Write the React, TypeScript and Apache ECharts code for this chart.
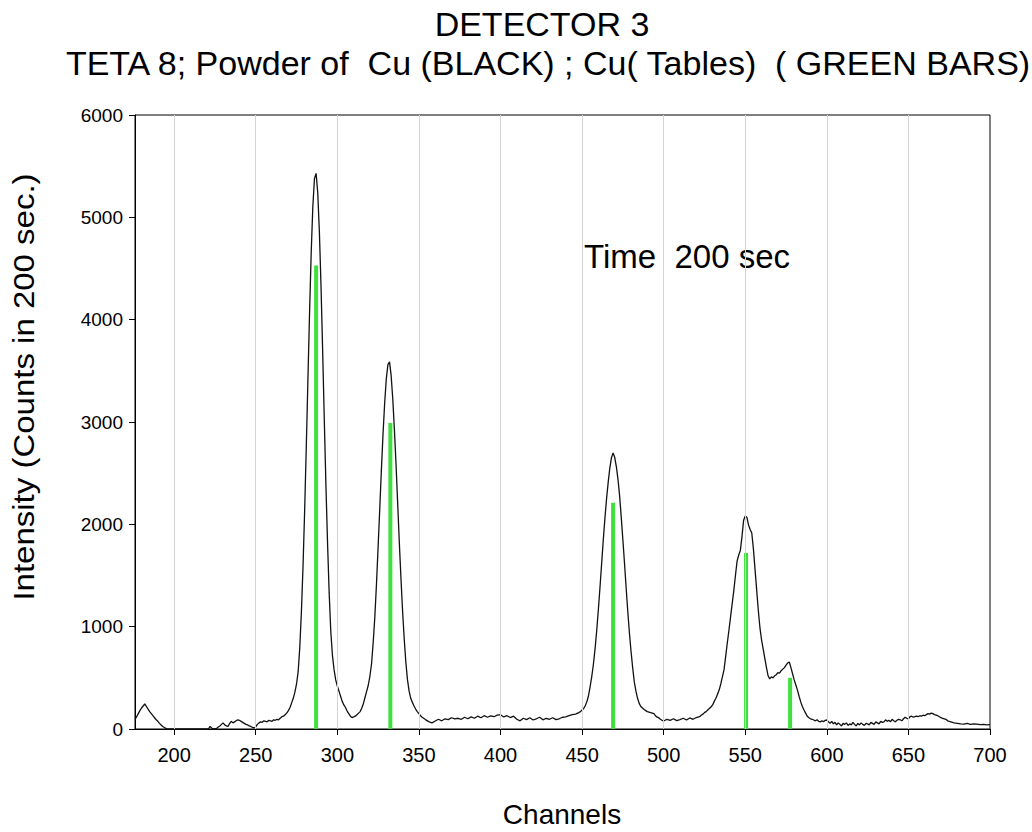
import React, { useEffect, useRef } from "react";
import * as echarts from "echarts";

// ---- Measured spectrum (channel, counts) ----
const lowChannelBump: number[][] = [
  [176, 95], [177, 120], [178, 150], [179, 180], [180, 205], [181, 225], [182, 245], [183, 220],
  [184, 195], [185, 170], [186, 150], [187, 130], [188, 110], [189, 90], [190, 75], [191, 55],
  [192, 40], [193, 25], [194, 15], [195, 5], [196, 0], [200, 0], [205, 0], [210, 0], [215, 0], [221, 0],
];

const preamble: number[][] = [
  [222, 25], [223, 10], [224, 0], [226, 5], [227, 20], [228, 30], [229, 45], [230, 60], [231, 40],
  [232, 30], [233, 25], [234, 55], [235, 75], [236, 60], [237, 70], [238, 80], [239, 90], [240, 85],
  [241, 75], [242, 65], [243, 55], [244, 45], [245, 40], [246, 30], [247, 25], [248, 15], [249, 10],
  [250, 20], [251, 45], [252, 60], [253, 70], [254, 65], [255, 80], [256, 75], [257, 70], [258, 85],
  [259, 80], [260, 75], [261, 90], [262, 85], [263, 95], [264, 90], [265, 105],
];

const peak1: number[][] = [
  [266, 120], [267, 125], [268, 140], [269, 155], [270, 180], [271, 210], [272, 255], [273, 300],
  [274, 360], [275, 440], [276, 560], [277, 800], [278, 1150], [279, 1600], [280, 2150], [281, 2770],
  [282, 3430], [283, 4080], [284, 4660], [285, 5110], [286, 5380], [287, 5430], [288, 5240], [289, 4860],
  [290, 4330], [291, 3700], [292, 3030], [293, 2390], [294, 1820], [295, 1330], [296, 950], [297, 720],
  [298, 580], [299, 480], [300, 420], [301, 370], [302, 320], [303, 270], [304, 235], [305, 210],
  [306, 175], [307, 150], [308, 125], [309, 112], [310, 118], [311, 125], [312, 140], [313, 155],
  [314, 170], [315, 205],
];

const peak2: number[][] = [
  [316, 250], [317, 310], [318, 370], [319, 430], [320, 520], [321, 640], [322, 850], [323, 1100],
  [324, 1420], [325, 1780], [326, 2150], [327, 2530], [328, 2880], [329, 3180], [330, 3420], [331, 3560],
  [332, 3587], [333, 3450], [334, 3220], [335, 2920], [336, 2580], [337, 2200], [338, 1820], [339, 1470],
  [340, 1150], [341, 880], [342, 650], [343, 480], [344, 370], [345, 300], [346, 260], [347, 225],
  [348, 195], [349, 170], [350, 150], [351, 130],
];

const midBackground: number[][] = [
  [352, 115], [354, 92], [356, 72], [358, 60], [360, 78], [362, 95], [364, 80], [366, 100], [368, 92],
  [370, 110], [372, 98], [374, 105], [376, 95], [378, 115], [380, 100], [382, 118], [384, 105],
  [386, 125], [388, 110], [390, 130], [392, 115], [394, 128], [396, 120], [398, 135], [400, 140],
  [402, 118], [404, 130], [406, 112], [408, 125], [410, 95], [412, 80], [414, 105], [416, 92],
  [418, 110], [420, 88], [422, 100], [424, 115], [426, 90], [428, 105], [430, 95], [432, 110],
  [434, 92], [436, 100], [438, 115], [440, 118], [442, 130], [444, 140], [446, 145], [448, 160],
  [449, 170], [450, 185], [451, 200],
];

const peak3: number[][] = [
  [452, 230], [453, 270], [454, 330], [455, 420], [456, 520], [457, 640], [458, 790], [459, 970],
  [460, 1170], [461, 1390], [462, 1620], [463, 1850], [464, 2060], [465, 2250], [466, 2410], [467, 2550],
  [468, 2650], [469, 2698], [470, 2655], [471, 2565], [472, 2440], [473, 2280], [474, 2070], [475, 1850],
  [476, 1620], [477, 1380], [478, 1150], [479, 940], [480, 760], [481, 600], [482, 460], [483, 370],
  [484, 300], [485, 250], [486, 220], [487, 205], [488, 190], [489, 180], [490, 170], [492, 160],
  [494, 150], [495, 130], [496, 115], [497, 110], [498, 95], [499, 85], [500, 78],
];

const valleyBackground: number[][] = [
  [502, 95], [504, 85], [506, 100], [508, 82], [510, 92], [512, 105], [514, 88], [516, 108],
  [518, 95], [520, 112], [522, 120], [523, 135],
];

const peak4: number[][] = [
  [524, 145], [525, 160], [526, 170], [527, 185], [528, 200], [529, 215], [530, 235], [531, 270],
  [532, 300], [533, 340], [534, 380], [535, 440], [536, 510], [537, 580], [538, 710], [539, 840],
  [540, 965], [541, 1095], [542, 1225], [543, 1355], [544, 1500], [545, 1640], [546, 1700], [547, 1745],
  [548, 1880], [549, 2040], [550, 2082], [551, 2070], [552, 1995], [553, 1950], [554, 1915], [555, 1760],
  [556, 1560], [557, 1360], [558, 1160], [559, 990], [560, 870], [561, 780], [562, 690], [563, 600],
  [564, 520], [565, 490], [566, 510], [567, 500], [568, 520], [569, 530], [570, 550], [571, 545],
  [572, 570], [573, 585], [574, 600], [575, 625], [576, 645], [577, 655], [578, 600], [579, 540],
  [580, 480], [581, 430], [582, 380], [583, 320], [584, 265], [585, 220], [586, 185], [587, 155],
  [588, 125], [589, 110], [590, 100], [591, 95], [592, 88], [593, 80], [594, 90], [595, 75],
  [596, 70], [597, 80], [598, 72], [599, 85],
];

const highBackground: number[][] = [
  [600, 88], [601, 70], [602, 55], [603, 75], [604, 50], [605, 65], [606, 40], [607, 60], [608, 45],
  [609, 30], [610, 55], [611, 45], [612, 60], [613, 35], [614, 50], [615, 40], [616, 65], [617, 45],
  [618, 30], [619, 55], [620, 40], [621, 60], [622, 45], [623, 35], [624, 55], [625, 50], [626, 40],
  [627, 65], [628, 55], [629, 45], [630, 70], [631, 60], [632, 50], [633, 75], [634, 65], [635, 70],
  [636, 90], [637, 75], [638, 85], [639, 70], [640, 95], [641, 80], [642, 70], [643, 85], [644, 95],
  [645, 90], [646, 80], [647, 100], [648, 115], [649, 105], [650, 100], [651, 120], [652, 125],
  [653, 115], [654, 120], [655, 125], [656, 120], [657, 130], [658, 125], [659, 135], [660, 130],
  [661, 140], [662, 150], [663, 145], [664, 155], [665, 150], [666, 140], [667, 135], [668, 130],
  [669, 120], [670, 110], [671, 105], [672, 100], [673, 95], [674, 80], [675, 75], [676, 70],
  [677, 65], [678, 60], [680, 55], [682, 50], [684, 48], [686, 55], [688, 45], [690, 50], [692, 48],
  [694, 42], [696, 45], [698, 40], [700, 42],
];

// ---- Tabulated Cu lines (green bars) ----
const tableChannels = [287, 332.5, 469, 550.5, 577.5];
const tableIntensity = [4530, 2990, 2210, 1720, 500];

// ---- Axis ticks ----
const xTicks = [200, 250, 300, 350, 400, 450, 500, 550, 600, 650, 700];
const xGridLines = [200, 250, 300, 350, 400, 450, 500, 550, 600, 650];

const FONT = '"Liberation Sans", Arial, Helvetica, sans-serif';

export default function App() {
  const ref = useRef<HTMLDivElement>(null);

  useEffect(() => {
    if (!ref.current) return;
    const chart = echarts.init(ref.current, null, { renderer: "svg" });

    const spectrum = [
      ...lowChannelBump,
      ...preamble,
      ...peak1,
      ...peak2,
      ...midBackground,
      ...peak3,
      ...valleyBackground,
      ...peak4,
      ...highBackground,
    ];
    const bars = tableChannels.map((c, i) => [c, tableIntensity[i]]);

    chart.setOption({
      animation: false,
      backgroundColor: "#fff",
      grid: {
        left: 135,
        right: 42,
        top: 115,
        bottom: 103,
        show: true,
        borderColor: "#000",
        borderWidth: 1,
        backgroundColor: "transparent",
      },
      xAxis: {
        type: "value",
        min: 176,
        max: 700,
        axisLine: { show: true, onZero: false, lineStyle: { color: "#000", width: 1 } },
        axisTick: {
          show: true,
          inside: false,
          length: 6,
          customValues: xTicks,
          lineStyle: { color: "#000" },
        },
        axisLabel: {
          customValues: xTicks,
          color: "#000",
          fontFamily: FONT,
          fontSize: 20,
          margin: 16,
          formatter: (v: number) => String(v),
        },
        splitLine: { show: false },
      },
      yAxis: {
        type: "value",
        min: 0,
        max: 6000,
        interval: 1000,
        axisLine: { show: true, lineStyle: { color: "#000", width: 1 } },
        axisTick: { show: true, inside: false, length: 6, lineStyle: { color: "#000" } },
        axisLabel: {
          color: "#000",
          fontFamily: FONT,
          fontSize: 19,
          margin: 12,
          formatter: (v: number) => String(v),
        },
        splitLine: { show: false },
      },
      series: [
        {
          type: "line",
          data: [],
          silent: true,
          markLine: {
            silent: true,
            symbol: ["none", "none"],
            label: { show: false },
            lineStyle: { color: "#d4d4d4", width: 1, type: "solid" },
            data: xGridLines.map((v) => ({ xAxis: v })),
          },
          z: 1,
        },
        {
          type: "custom",
          data: bars,
          z: 2,
          renderItem: (params: any, api: any) => {
            const x = api.value(0);
            const y = api.value(1);
            const top = api.coord([x, y]);
            const base = api.coord([x, 0]);
            return {
              type: "rect",
              shape: { x: top[0] - 2, y: top[1], width: 4, height: base[1] - top[1] },
              style: { fill: "#3de03d" },
            };
          },
        },
        {
          type: "line",
          data: spectrum,
          showSymbol: false,
          symbol: "none",
          lineStyle: { color: "#111", width: 1.3 },
          z: 3,
        },
      ],
      graphic: [
        {
          type: "text",
          x: 542,
          y: 24,
          style: {
            text: "DETECTOR 3",
            font: `34px ${FONT}`,
            fill: "#000",
            align: "center",
            verticalAlign: "middle",
          },
        },
        {
          type: "text",
          x: 548,
          y: 63,
          style: {
            text: "TETA 8; Powder of  Cu (BLACK) ; Cu( Tables)  ( GREEN BARS)",
            font: `34px ${FONT}`,
            fill: "#000",
            align: "center",
            verticalAlign: "middle",
          },
        },
        {
          type: "text",
          x: 584,
          y: 256,
          style: {
            text: "Time  200 sec",
            font: `33px ${FONT}`,
            fill: "#000",
            align: "left",
            verticalAlign: "middle",
          },
        },
        {
          type: "text",
          x: 562,
          y: 814,
          style: {
            text: "Channels",
            font: `28px ${FONT}`,
            fill: "#000",
            align: "center",
            verticalAlign: "middle",
          },
        },
        {
          type: "text",
          x: 24,
          y: 387,
          rotation: Math.PI / 2,
          scaleX: 1.1,
          style: {
            text: "Intensity (Counts in 200 sec.)",
            font: `30px ${FONT}`,
            fill: "#000",
            align: "center",
            verticalAlign: "middle",
          },
        },
      ],
    });

    return () => chart.dispose();
  }, []);

  return (
    <div
      ref={ref}
      style={{ position: "fixed", left: 0, top: 0, width: 1032, height: 832, background: "#fff" }}
    />
  );
}
